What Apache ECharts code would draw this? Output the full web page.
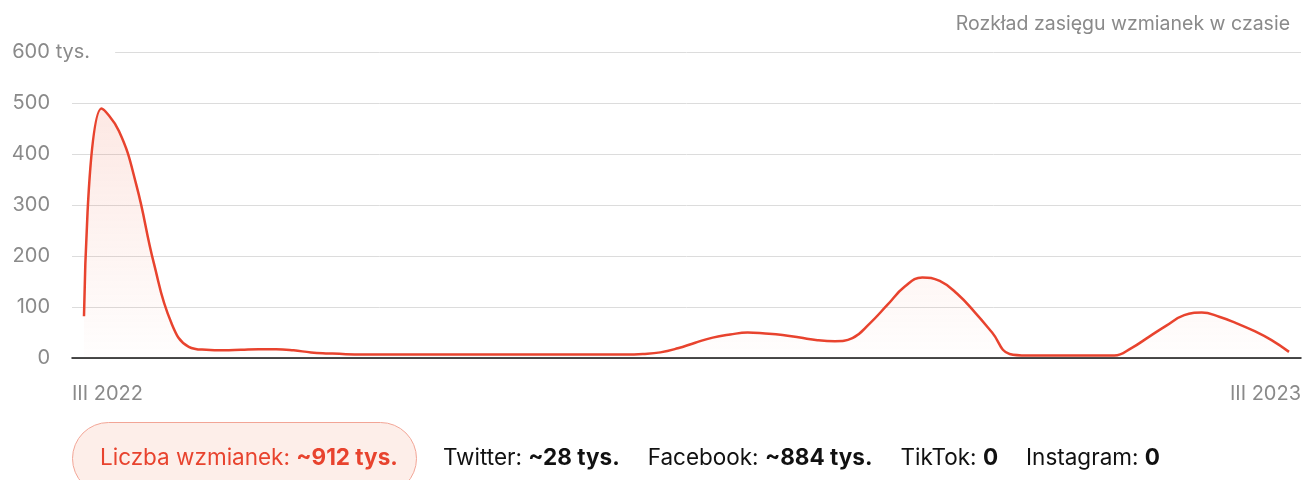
<!DOCTYPE html>
<html>
<head>
<meta charset="utf-8">
<script src="https://cdn.jsdelivr.net/npm/echarts@6/dist/echarts.min.js"></script>
<style>
html,body{margin:0;padding:0;background:#fff;}
#c{width:1304px;height:480px;}
</style>
</head>
<body>
<div id="c"></div>
<script>
// ---- data ----
const title = 'Rozkład zasięgu wzmianek w czasie';
const xTicks = ['III 2022', 'III 2023'];
const yTicks = [0, 100, 200, 300, 400, 500, 600];
const yUnit = ' tys.';
const values = [
  82, 489, 445, 339, 186, 69, 22, 16, 15, 16,
  17, 17, 15, 11, 9, 7.5, 7, 7, 7, 7,
  7, 7, 7, 7, 7, 7, 7, 7, 7, 7,
  7, 7, 8, 11, 19, 30, 40, 46, 50, 48,
  45, 40, 35, 33, 39, 68, 104, 140, 158, 151,
  126, 90, 50, 8, 5, 5, 5, 5, 5, 5,
  20, 42, 64, 84, 89, 81, 68, 53, 35, 12
];
const totalLabel = 'Liczba wzmianek: ';
const totalValue = '~912 tys.';
const platforms = ['Twitter', 'Facebook', 'TikTok', 'Instagram'];
const platformValues = ['~28 tys.', '~884 tys.', '0', '0'];

// ---- chart ----
const FONT = 'Inter, "Noto Sans", sans-serif';
const GREY = '#8a8a8a';
const RED = '#e8432e';
const chart = echarts.init(document.getElementById('c'), null, {renderer: 'canvas'});
const n = values.length;
const gridLeft = 72, gridRight = 2, gridTop = 52, gridBottom = 122;
const plotW = 1304 - gridLeft - gridRight;
// first/last points sit 12px inside the plot edges
const pad = 12 * (n - 1) / (plotW - 24);
const points = values.map((v, i) => [i, v]);

const legendText = platforms.map((p, i) => '{n|' + p + ': }{v|' + platformValues[i] + '}').join('{g|}');

chart.setOption({
  animation: false,
  textStyle: {fontFamily: FONT},
  title: {
    text: title, right: 9, top: 9,
    textStyle: {fontFamily: FONT, fontSize: 19.5, fontWeight: 'normal', color: GREY}
  },
  grid: {left: gridLeft, right: gridRight, top: gridTop, bottom: gridBottom, containLabel: false},
  xAxis: [{
    type: 'value', min: -pad, max: n - 1 + pad,
    axisLine: {show: true, onZero: false, lineStyle: {color: '#111', width: 1.5}},
    axisTick: {show: false}, axisLabel: {show: false}, splitLine: {show: false}
  }, {
    type: 'value', min: 0, max: xTicks.length - 1, interval: 1, position: 'bottom',
    axisLine: {show: false}, axisTick: {show: false}, splitLine: {show: false},
    axisLabel: {
      show: true, margin: 26, color: GREY, fontSize: 20, fontFamily: FONT,
      formatter: v => xTicks[v] || '',
      alignMinLabel: 'left', alignMaxLabel: 'right'
    }
  }],
  yAxis: [{
    type: 'value', min: yTicks[0], max: yTicks[yTicks.length - 1], interval: 100, z: 0,
    axisLine: {show: false}, axisTick: {show: false}, axisLabel: {show: false},
    splitLine: {show: true, lineStyle: {color: '#dcdcdc', width: 1}}
  }, {
    type: 'value', min: yTicks[0], max: yTicks[yTicks.length - 1], interval: 100, z: 3,
    axisLine: {show: false}, axisTick: {show: false}, splitLine: {show: false},
    position: 'left',
    axisLabel: {
      show: true, margin: 60, align: 'left', color: GREY, fontSize: 20, fontFamily: FONT,
      formatter: v => v === yTicks[yTicks.length - 1] ? '{n|' + v + '}{u|' + yUnit + '}' : '{n|' + v + '}',
      rich: {
        n: {width: 38, align: 'right', color: GREY, fontSize: 20, fontFamily: FONT},
        u: {color: GREY, fontSize: 20, fontFamily: FONT, backgroundColor: '#fff', padding: [4, 25, 4, 0]}
      }
    }
  }],
  series: [{
    type: 'line', xAxisIndex: 0, yAxisIndex: 0,
    data: points, smooth: 0.45, showSymbol: false, symbol: 'none',
    lineStyle: {color: RED, width: 2.5},
    areaStyle: {
      color: new echarts.graphic.LinearGradient(0, 0, 0, 1, [
        {offset: 0, color: 'rgba(240,105,75,0.22)'},
        {offset: 1, color: 'rgba(240,105,75,0.01)'}
      ])
    },
    z: 2
  }],
  graphic: [{
    type: 'rect', left: 72, top: 422,
    shape: {width: 344, height: 72, r: 36},
    style: {fill: '#fdeee9', stroke: '#f2a596', lineWidth: 1}
  }, {
    type: 'text', left: 100, top: 447,
    style: {
      text: '{a|' + totalLabel + '}{b|' + totalValue + '}',
      rich: {
        a: {fontFamily: FONT, fontSize: 22.5, fill: RED},
        b: {fontFamily: FONT, fontSize: 22.5, fill: RED, fontWeight: 'bold'}
      }
    }
  }, {
    type: 'text', left: 443, top: 447,
    style: {
      text: legendText,
      rich: {
        n: {fontFamily: FONT, fontSize: 22.5, fill: '#111'},
        v: {fontFamily: FONT, fontSize: 22.5, fill: '#111', fontWeight: 'bold'},
        g: {width: 28}
      }
    }
  }]
});
</script>
</body>
</html>
